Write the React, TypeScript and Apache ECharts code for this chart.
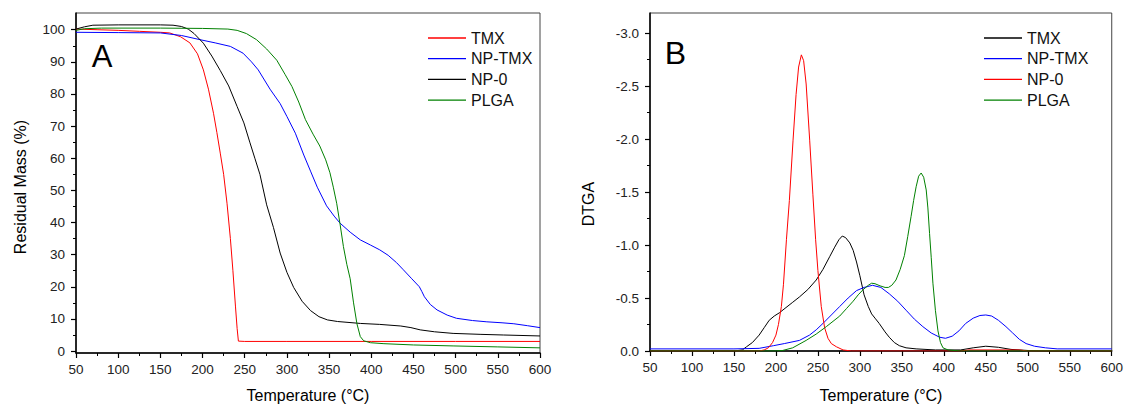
import React, { useEffect, useRef } from "react";
import * as echarts from "echarts";

// ---------- Panel A: TGA (Residual Mass %) ----------
const tgaTMX: [number, number][] = [
  [50, 100.2], [75, 100.0], [100, 99.8], [125, 99.5], [150, 99.2], [161, 99.0], [174, 97.8], [185, 95.9],
  [194, 92.5], [201, 87.5], [207, 81.5], [213, 74], [217, 68], [221, 61.6], [225, 55], [229, 46], [233, 35],
  [236, 25], [239, 14], [241, 7], [242.5, 3.1], [250, 3.0], [300, 3.0], [400, 3.0], [500, 3.0], [600, 3.0],
];
const tgaNPTMX: [number, number][] = [
  [50, 99.2], [100, 99.1], [150, 99.0], [175, 98.2], [197, 96.9], [215, 95.9], [233, 94.8], [248, 92.7],
  [258, 90], [266, 87.5], [280, 81.5], [292, 77], [300, 73], [310, 67.8], [320, 61], [328, 56], [336, 51],
  [347, 45.2], [356, 42], [363, 39.8], [375, 37], [387, 34.6], [399, 33], [410, 31.5], [420, 29.8], [430, 27.5],
  [438, 25.3], [448, 22.5], [457, 20], [460, 18.5], [463, 16.9], [470, 14.5], [478, 12.8], [490, 11.2],
  [501, 10.2], [520, 9.5], [537, 9.1], [555, 8.8], [569, 8.5], [585, 7.9], [600, 7.3],
];
const tgaNP0: [number, number][] = [
  [50, 100.2], [60, 100.9], [70, 101.4], [100, 101.5], [150, 101.5], [165, 101.4], [175, 101], [183, 100.2],
  [190, 98.8], [201, 95.8], [211, 91.8], [221, 87.3], [231, 82.5], [241, 76.1], [249, 71], [256, 65], [262, 60],
  [268, 55], [276, 45.5], [284, 38.5], [292, 30.5], [300, 24.5], [308, 19.8], [318, 15.5], [328, 12.6],
  [338, 10.7], [348, 9.7], [360, 9.2], [387, 8.6], [410, 8.3], [435, 7.8], [447, 7.3], [458, 6.6], [475, 6.0],
  [497, 5.5], [530, 5.2], [557, 5.0], [600, 4.7],
];
const tgaPLGA: [number, number][] = [
  [50, 99.8], [60, 100.3], [80, 100.5], [150, 100.5], [200, 100.4], [230, 100.2], [241, 99.8], [252, 98.8],
  [264, 96.9], [276, 94], [288, 90.5], [298, 86], [306, 82.3], [314, 77.5], [322, 72], [331, 67.5], [339, 63.8],
  [346, 59.5], [351, 55.5], [355, 51], [359, 46], [363, 39.5], [367, 32.5], [371, 27], [375, 22.5], [379, 15],
  [383, 8.5], [387, 4.5], [391, 3.2], [399, 2.6], [415, 2.3], [450, 1.9], [497, 1.6], [550, 1.3], [600, 1.0],
];

// ---------- Panel B: DTGA ----------
const dtgTMX: [number, number][] = [
  [50, 0], [150, 0], [160, -0.01], [165, -0.04], [172, -0.08], [180, -0.15], [186, -0.22], [192, -0.29],
  [198, -0.33], [204, -0.36], [212, -0.41], [220, -0.46], [228, -0.51], [238, -0.58], [248, -0.67], [256, -0.77],
  [264, -0.89], [270, -0.98], [275, -1.05], [279, -1.085], [283, -1.07], [288, -1.02], [292, -0.95], [296, -0.84],
  [300, -0.71], [305, -0.53], [310, -0.42], [314, -0.35], [318, -0.31], [323, -0.26], [330, -0.18], [335, -0.13],
  [341, -0.08], [347, -0.05], [355, -0.03], [367, -0.02], [390, -0.01], [420, -0.01], [435, -0.03], [450, -0.045],
  [465, -0.035], [480, -0.015], [500, -0.005], [520, 0], [600, 0],
];
const dtgNPTMX: [number, number][] = [
  [50, -0.02], [150, -0.02], [180, -0.025], [197, -0.05], [210, -0.07], [228, -0.1], [240, -0.15], [248, -0.2],
  [256, -0.26], [266, -0.34], [276, -0.42], [286, -0.5], [296, -0.57], [305, -0.6], [315, -0.62], [325, -0.6],
  [335, -0.54], [345, -0.47], [355, -0.385], [365, -0.3], [375, -0.23], [385, -0.17], [395, -0.13], [402, -0.12],
  [410, -0.14], [418, -0.19], [426, -0.26], [435, -0.31], [443, -0.335], [450, -0.34], [457, -0.33], [465, -0.29],
  [474, -0.23], [482, -0.17], [490, -0.11], [498, -0.07], [508, -0.045], [521, -0.03], [535, -0.02], [600, -0.02],
];
const dtgNP0: [number, number][] = [
  [50, 0], [180, 0], [186, -0.01], [191, -0.03], [196, -0.08], [200, -0.15], [203, -0.25], [206.5, -0.42],
  [209, -0.63], [212.5, -1.05], [216, -1.42], [220.4, -1.99], [224, -2.42], [227, -2.68], [230.3, -2.795],
  [233, -2.74], [236, -2.52], [240.2, -1.99], [244, -1.48], [247.3, -1.05], [250, -0.76], [254, -0.42],
  [258, -0.22], [262, -0.12], [266, -0.07], [272, -0.04], [280, -0.01], [290, 0], [420, 0], [430, -0.01],
  [490, -0.01], [500, 0], [600, 0],
];
const dtgPLGA: [number, number][] = [
  [50, 0], [200, 0], [208, -0.005], [220, -0.03], [236, -0.1], [248, -0.16], [260, -0.23], [268, -0.28],
  [276, -0.33], [284, -0.4], [292, -0.47], [298, -0.53], [304, -0.58], [310, -0.62], [314, -0.64], [318, -0.635],
  [324, -0.615], [330, -0.6], [334, -0.6], [338, -0.62], [343, -0.67], [348, -0.77], [353, -0.9], [357, -1.08],
  [361, -1.27], [364, -1.42], [367, -1.55], [370, -1.65], [373, -1.68], [376, -1.64], [379, -1.52], [381, -1.35],
  [383, -1.11], [385, -0.88], [387, -0.64], [390, -0.38], [393, -0.19], [396, -0.08], [399, -0.03], [405, -0.01],
  [420, 0], [600, 0],
];

const tgaMajor = [0, 10, 20, 30, 40, 50, 60, 70, 80, 90, 100];
const tgaMinor = [5, 15, 25, 35, 45, 55, 65, 75, 85, 95];
const dtgMajor = [-3.0, -2.5, -2.0, -1.5, -1.0, -0.5, 0.0];
const dtgMinor = [-2.75, -2.25, -1.75, -1.25, -0.75, -0.25];

const FONT = "'Liberation Sans', Arial, sans-serif";
const LABEL_COLOR = "#222";

function xAxisCfg() {
  return {
    type: "value",
    min: 50,
    max: 600,
    interval: 50,
    axisLine: { show: true, onZero: false, lineStyle: { color: "#000", width: 1.5 } },
    axisTick: { show: true, inside: false, length: 5, lineStyle: { color: "#000", width: 1.2 } },
    minorTick: { show: true, splitNumber: 2, length: 3, lineStyle: { color: "#000", width: 1 } },
    axisLabel: { fontSize: 13.5, fontFamily: FONT, color: LABEL_COLOR, margin: 9 },
    splitLine: { show: false },
    minorSplitLine: { show: false },
  };
}

function yAxes(min: number, max: number, major: number[], minor: number[], inverse: boolean, fmt: (v: number) => string) {
  return [
    {
      type: "value",
      position: "left",
      min,
      max,
      inverse,
      axisLine: { show: true, onZero: false, lineStyle: { color: "#000", width: 1.5 } },
      axisTick: { show: true, inside: false, length: 5, customValues: major, lineStyle: { color: "#000", width: 1.2 } },
      axisLabel: {
        fontSize: 13.5, fontFamily: FONT, color: LABEL_COLOR, margin: 11,
        customValues: major, formatter: (v: number) => fmt(v),
      },
      splitLine: { show: false },
    },
    {
      type: "value",
      position: "left",
      offset: 0,
      min,
      max,
      inverse,
      axisLine: { show: false },
      axisTick: { show: true, inside: false, length: 3, customValues: minor, lineStyle: { color: "#000", width: 1 } },
      axisLabel: { show: false },
      splitLine: { show: false },
    },
  ];
}

function lineSeries(name: string, data: [number, number][], color: string) {
  return {
    name,
    type: "line",
    data,
    symbol: "none",
    showSymbol: false,
    smooth: false,
    lineStyle: { color, width: 1 },
    itemStyle: { color },
    emphasis: { disabled: true },
    z: 3,
  };
}

function legendCfg(left: number) {
  return {
    orient: "vertical",
    left,
    top: 25,
    icon: "rect",
    itemWidth: 38,
    itemHeight: 1.3,
    itemGap: 4.7,
    selectedMode: false,
    textStyle: { fontSize: 16, fontFamily: FONT, color: "#111", lineHeight: 16 },
  };
}

function titleText(x: number, y: number, text: string, size: number, rotate = false) {
  return {
    type: "text",
    x,
    y,
    rotation: rotate ? Math.PI / 2 : 0,
    style: {
      text,
      fontSize: size,
      fontFamily: FONT,
      fill: "#000",
      align: "center",
      verticalAlign: "middle",
    },
  };
}

export default function App() {
  const leftRef = useRef<HTMLDivElement>(null);
  const rightRef = useRef<HTMLDivElement>(null);

  useEffect(() => {
    const c1 = echarts.init(leftRef.current!, null, { renderer: "svg" });
    const c2 = echarts.init(rightRef.current!, null, { renderer: "svg" });

    c1.setOption({
      animation: false,
      backgroundColor: "#fff",
      grid: { left: 76, top: 13, width: 464, height: 340, show: true, borderColor: "#444", borderWidth: 1, backgroundColor: "transparent" },
      xAxis: xAxisCfg(),
      yAxis: yAxes(-0.6, 105.2, tgaMajor, tgaMinor, false, (v) => String(Math.round(v))),
      legend: legendCfg(423),
      series: [
        lineSeries("TMX", tgaTMX, "#ff0000"),
        lineSeries("NP-TMX", tgaNPTMX, "#0000ff"),
        lineSeries("NP-0", tgaNP0, "#000000"),
        lineSeries("PLGA", tgaPLGA, "#008000"),
      ],
      graphic: [
        titleText(308, 395, "Temperature (°C)", 16),
        titleText(20, 187, "Residual Mass (%)", 16, true),
        titleText(102, 56, "A", 31),
      ],
    });

    c2.setOption({
      animation: false,
      backgroundColor: "#fff",
      grid: { left: 87, top: 13, width: 463, height: 338, show: true, borderColor: "#444", borderWidth: 1, backgroundColor: "transparent" },
      xAxis: xAxisCfg(),
      yAxis: yAxes(-3.19, 0, dtgMajor, dtgMinor, true, (v) => v.toFixed(1)),
      legend: legendCfg(416),
      series: [
        lineSeries("TMX", dtgTMX, "#000000"),
        lineSeries("NP-TMX", dtgNPTMX, "#0000ff"),
        lineSeries("NP-0", dtgNP0, "#ff0000"),
        lineSeries("PLGA", dtgPLGA, "#008000"),
      ],
      graphic: [
        titleText(318, 395, "Temperature (°C)", 16),
        titleText(25.5, 204, "DTGA", 16, true),
        titleText(112.5, 53, "B", 32),
      ],
    });

    return () => {
      c1.dispose();
      c2.dispose();
    };
  }, []);

  return (
    <div style={{ position: "fixed", left: 0, top: 0, width: 1126, height: 405, background: "#fff" }}>
      <div ref={leftRef} style={{ position: "absolute", left: 0, top: 0, width: 563, height: 405 }} />
      <div ref={rightRef} style={{ position: "absolute", left: 563, top: 0, width: 563, height: 405 }} />
    </div>
  );
}
